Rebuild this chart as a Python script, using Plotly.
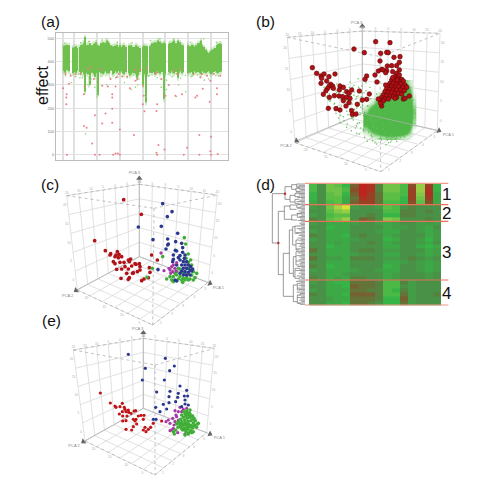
import numpy as np
import plotly.graph_objects as go

W, H = 482, 493

# ---------- (a) effect per position ----------
band_pos = [189,193,198,202,206, 218,222,226,230, 237,241,245,249,253,257, 263,267,
            275,279,283,287,291,295, 302,306,310,314,318,322,326,330,
            337,341,345,349,353, 360,364,368,372,376, 385,389,393,397,
            402,406,410,414,418, 428,432,436,440,
            448,452,456,460,464,468,472,476,480,484, 491,495,
            506,510,514,518,522,526, 532,536,540,544,548,
            562,566,570,574,578,582,586, 594,598,602,606,610,
            616,620,624,628,632,636,640,644, 650,654,658,662]
band_top = [466,470,472,466,470, 460,462,465,458, 462,470,472,480,505,470, 472,478,
            470,475,478,482,470,466, 478,482,478,480,490,485,478,470,
            465,462,468,472,462, 470,462,468,470,462, 468,462,470,462,
            462,470,466,462,458, 462,468,466,465,
            465,470,478,480,480,482,490,480,485,478, 480,476,
            475,480,480,485,490,478, 490,478,482,472,468,
            470,462,465,472,468,464,470, 478,480,490,470,462,
            450,442,436,440,445,450,455,458, 470,475,478,475]
band_low = [360,352,362,365,358, 350,355,352,360, 355,350,356,345,270,350, 345,300,
            352,345,335,350,255,355, 350,345,352,358,348,355,350,360,
            345,350,358,352,360, 352,358,350,345,355, 350,340,345,352,
            350,345,330,340,355, 300,345,225,345,
            352,358,350,355,345,350,358,352,348,355, 240,345,
            355,350,358,352,348,355, 330,352,358,350,355,
            350,358,352,355,345,358,352, 355,350,345,358,352,
            350,355,358,352,345,350,355,358, 352,350,355,358]
pink_pos = [187,198,197,197,199,250,258,275,283,283,297,315,305,335,335,322,335,335,345,358,338,345,352,358,400,428,430,427,432,470,468,474,468,492,470,550,560,597,597,632,630,632,652,628,650,650,607,590,585,525,545,205,250,252,280,305,330,348,365,388,405,410,420,440,465,482,495,505,520,530,540,580,600,605,620,630,660,640,262,240,225,210,195,270,300,355,380,402,470]
pink_eff = [285,260,246,217,0,124,116,49,170,0,0,177,134,138,198,293,260,246,293,109,0,6,6,0,85,296,253,217,187,217,188,42,9,23,0,0,30,85,0,78,16,0,4,227,285,260,283,253,246,253,260,305,260,293,325,296,325,332,336,285,318,325,365,371,346,325,253,299,361,346,368,346,332,346,339,318,339,346,368,346,346,339,346,375,368,346,336,365,353]
mint_pos = [212,238,262,268,283,292,318,345,372,392,412,436,442,482,490,498,528,535,556,575,612,646,255,498,405,
            195,225,245,272,300,328,352,380,415,445,470,488,515,540,572,600,625,655,210,233,268,335,398,445,503,555,592,
            192,240,265,305,350,395,450,478,520,570,610,648]
mint_eff = [310,330,300,320,290,265,300,330,310,280,300,250,340,290,270,320,250,300,270,340,320,340,90,280,290,
            338,335,330,325,338,332,335,330,325,338,330,322,335,328,335,330,325,338,345,345,340,345,342,340,345,340,342,
            478,480,486,492,482,480,490,497,496,482,497,482]
effect_ticks = [500,400,300,200,100,0]
pos_grid = [187,221,290,358,427,495,563,632]

# ---------- (b) ----------
b_red_h = [342,407,450,373,422,440,445,462,480,420,478,442,455,470,217,478,415,425,440,430,405,380,375,437,458,470,
           230,243,252,267,285,245,260,272,243,268,263,278,280,258,300,310,298,320,335,327,250,268,283,297,308,320,330,358,388,380,367,352,327,318,310,265,288,300,335,337,348,425,
           465,475,485,455,465,478,490,450,460,470,482,495,445,455,465,475,488,500,440,450,460,470,482,493,435,445,455,465,475,485,430,440,450,460,470,425,435,445,420,430,508,490,465,495,422,415,437,411,472,458,478]
b_red_v = [147,125,128,158,160,157,158,172,170,183,187,198,197,197,203,210,213,208,212,210,225,228,238,218,215,220,
           220,228,222,230,222,235,243,253,250,258,265,258,265,272,258,262,270,275,270,280,283,292,287,288,290,292,295,273,282,298,300,313,308,318,302,325,326,330,332,343,342,318,
           230,232,238,240,242,245,243,250,250,252,252,255,258,260,262,260,262,262,266,268,270,270,270,272,275,277,278,280,280,282,285,287,288,290,292,293,297,297,300,303,288,297,295,295,310,297,255,246,240,233,225]
cloud_h = [380,400,420,440,460,480,500,520]
cloud_v = [250,270,290,310,330,350,370,390,410]
cloud_density = [
    [0,0,0,0,0,2,3,0],
    [0,0,0,2,7,10,8,0],
    [0,0,3,9,10,10,10,1],
    [0,2,8,10,10,10,10,2],
    [2,7,10,10,10,10,10,3],
    [5,9,10,10,10,10,10,3],
    [5,8,10,10,10,10,10,2],
    [2,5,7,8,9,9,7,0],
    [0,1,2,3,3,2,1,0]]
haze_h = [252,258,262,268,272,276,280,284,288,292,296,300,304,308,312,316,320,324,328,332,336,340,344,348,352,356,360,364,368,372,376,380,384,388,392,396,400,
          260,266,274,282,290,298,306,314,322,330,338,346,354,362,370,378,386,394,402,410,
          270,278,286,294,302,310,318,326,334,342,350,358,366,374,382,390,398,406,414,
          288,296,304,312,320,328,336,344,352,360,368,376,384,392,400,408,416,
          300,310,320,330,340,350,360,370,380,390,400,410,420,430,
          322,334,346,358,370,382,394,406,418,430,442,454,
          350,362,374,386,398,410,422,434,446,458,470,482,
          382,396,410,424,438,452,466,480,494,
          318,330,342,354,366,378,390,302,290,350,365,380,395,410,
          520,522,518,524,516,512,526,505,498,490,470,455,440,425,412,405]
haze_v = [262,290,248,282,300,266,254,310,272,320,294,252,334,286,268,322,300,344,262,282,312,352,276,296,336,262,306,290,326,278,344,300,318,336,296,352,322,
          275,300,258,312,278,332,266,302,286,330,262,310,288,322,346,272,300,356,338,312,
          304,268,326,292,346,278,316,298,350,286,324,368,306,338,318,348,362,330,306,
          340,354,318,362,334,306,356,328,370,344,316,376,352,330,382,362,342,
          368,350,382,326,360,378,338,392,362,346,380,400,358,372,
          372,392,384,402,388,372,406,394,416,388,420,404,
          400,384,412,396,422,386,414,400,428,408,424,412,
          424,410,432,416,434,426,418,408,412,
          270,246,256,236,258,248,262,298,252,290,278,304,324,282,
          300,330,350,370,290,378,340,395,402,408,414,420,412,420,398,428]

# ---------- (c) ----------
c_red_h = [371,424,284,316,332,330,352,348,357,345,355,365,340,345,360,372,385,392,388,405,418,350,365,375,385,395,408,420,420,400,412,398,380,363,385,388,425,432,448,450,455,472,445]
c_red_v = [104,148,227,257,266,270,260,270,268,275,278,275,290,296,292,292,285,282,290,296,296,313,312,305,312,303,298,305,315,323,320,325,325,340,343,338,347,342,308,322,270,285,338]
c_green_h = [553,557,488,457,441,565,558,572,575,565,590,500,520,548,565,585,535,530,540,550,560,570,575,580,530,520,510,515,545,555,535,565,555,548,540,525,580]
c_green_v = [218,237,275,310,337,267,280,285,300,292,325,342,350,352,345,338,310,320,335,340,338,342,330,320,330,335,335,345,345,345,342,310,328,322,312,325,345]
c_blue_h = [488,516,502,484,415,459,533,503,505,527,545,498,503,526,530,548,548,520,540,474,518,540,555,553,550,560,545,555,565,572,550,560,570,545,555,565,575,540,550,560,570,578,530,525,530,520,535]
c_blue_v = [116,140,155,184,186,224,205,222,237,230,235,252,240,256,258,248,262,270,272,314,290,285,270,280,290,290,300,300,300,305,310,310,315,318,320,322,318,325,330,330,330,312,300,345,348,283,278]
c_mag_h = [483,492,515,510,520,525,518,530,512,507,528]
c_mag_v = [264,317,305,315,300,310,320,293,325,310,318]

# ---------- (e) ----------
e_red_h = [211,241,255,258,277,270,283,285,295,277,288,296,312,317,268,278,291,303,325,333,342,340,310,318,288,278,320,310,305,288,345,362,340,355,348,370,395,315]
e_red_v = [249,279,288,292,280,290,292,298,300,305,305,307,303,302,312,318,318,310,318,316,316,328,328,328,332,333,342,350,360,358,352,352,360,358,365,340,333,333]
e_blue_h = [295,406,433,419,346,337,403,380,450,470,445,420,417,443,463,473,465,437,417,400,377,410,390,465,475,455,370,378]
e_blue_v = [133,145,168,182,175,210,210,246,228,241,250,244,260,262,258,258,270,275,278,283,292,297,305,282,285,290,328,328]
e_mag_h = [408,415,420,428,435,440,432,445,435,425,420,450,460,470,455,445,438,430,443,465]
e_mag_v = [335,330,340,325,335,320,345,305,302,360,362,292,298,295,305,330,315,355,368,372]
e_green_h = [503,433,465,490,430,480,470,495,505,445,452,460,468,476,484,492,448,456,464,472,480,488,496,450,458,466,474,482,490,444,452,460,468,476,484,492,455,463,471,479,487,458,466,474,482,462,470,478,468,476,472,465,480,488,455,440,485,475,500,437]
e_green_v = [342,372,375,365,365,300,310,345,340,335,328,322,318,316,318,325,340,335,330,325,322,328,332,345,342,338,334,332,338,352,350,346,344,342,346,348,356,354,352,350,355,360,360,358,362,305,302,308,365,368,345,312,312,318,315,342,368,372,352,360]

# ---------- (d) heat map ----------
heat = [
 [-1,3,-3,-2,0,6,10,9,4,-3,-3,-1,7,-5,8,0],
 [-1,3,-3,-3,-1,7,10,9,4,-3,-3,-1,8,-5,9,0],
 [0,3,-2,-3,0,6,10,8,5,-2,-2,-1,8,-4,9,1],
 [0,3,-2,-2,1,5,9,8,5,-2,-2,0,8,-3,8,1],
 [1,3,-1,-2,1,6,8,8,5,-1,-1,0,7,-2,7,1],
 [2,3,-3,-6,-9,2,3,3,2,-2,-1,3,4,3,3,3],
 [3,3,-2,-4,-5,3,3,3,3,-1,-1,4,4,3,4,3],
 [2,3,-1,-2,-2,3,3,4,3,0,0,4,4,3,3,3],
 [4,3,-2,-3,-5,3,6,5,3,-4,-3,3,3,3,4,3],
 [2,3,1,1,1,2,3,3,2,1,2,3,3,2,2,2],
 [3,3,0,1,1,3,3,3,3,1,2,2,3,2,1,3],
 [2,3,1,1,1,3,3,3,2,1,1,3,3,2,1,2],
 [4,3,1,1,0,3,4,3,3,1,2,3,3,3,1,2],
 [2,3,1,1,1,2,3,3,3,0,1,3,3,2,0,2],
 [3,3,1,2,1,3,3,4,3,1,2,3,3,2,1,3],
 [3,3,0,1,1,3,3,3,3,1,1,3,3,1,0,1],
 [5,3,1,1,1,3,4,4,3,2,2,3,3,3,1,2],
 [3,3,1,1,1,2,3,3,3,1,1,3,3,2,1,2],
 [5,3,2,2,1,4,4,4,3,2,2,3,4,3,2,3],
 [3,3,1,1,1,3,3,3,3,1,1,2,3,2,1,2],
 [4,3,0,1,1,3,3,3,3,0,1,3,3,2,1,2],
 [2,3,1,1,1,2,3,3,2,1,1,3,3,2,1,2],
 [3,3,1,1,2,3,3,3,3,1,2,3,3,3,2,3],
 [4,3,1,2,1,4,4,3,3,1,2,3,3,3,2,3],
 [2,3,1,0,0,5,5,5,4,-1,-1,4,2,3,3,3],
 [3,3,1,1,0,6,5,5,4,-1,-1,3,2,3,3,3],
 [2,3,1,1,1,5,5,4,4,-1,0,4,2,3,3,3],
 [4,3,1,1,0,6,6,6,4,-1,-1,5,2,3,3,4],
 [3,3,2,1,1,5,5,5,4,0,0,6,2,3,3,3],
 [3,3,1,1,0,5,5,4,3,0,0,5,2,3,3,3]]
cluster_names = ["1", "2", "3", "4"]
brackets = [(97,71,219,135,115),(135,50,88,155,150),(155,44,58,170,168),(150,76,96,165,165),(170,42,50,182,182),(168,54,64,180,182),(165,70,80,180,180),(165,88,100,178,178),
            (115,124,314,133,130),(133,108,148,150,155),(150,105,118,168,170),(155,135,150,170,172),(170,104,112,182,182),(172,130,142,185,185),
            (130,250,379,148,160),(148,180,310,158,160),(158,170,225,165,168),(160,260,320,168,165),(165,168,190,178,178),(168,210,240,178,178),(168,245,285,178,178),(165,295,325,180,180),
            (160,345,395,172,172),(172,340,360,182,182),(172,375,400,182,182)]
leaf_start = [182,176,182,170,178,182,168,180,176,182,172,184,178,170,182,176,
              184,180,172,184,176,182,170,184,178,184,180,174,184,178,
              182,176,184,170,178,184,168,180,176,184,172,182,178,184,170,180,176,184,168,182,178,174,184,170,178,184,176,168,182,178,
              180,172,184,178,166,182,176,184,170,178,184,176,168,182,
              182,176,184,172,178,184,170,180,176,184,172,182,178,184,174,180]
lines_y = [40,104,154,330,405]

fig = go.Figure()
layout = dict(width=W, height=H, margin=dict(l=0, r=0, t=0, b=0), paper_bgcolor="white",
              plot_bgcolor="rgba(0,0,0,0)", showlegend=False, barmode="overlay")
shapes, annots = [], []

def panel(n, ox, oy, w, h):
    """Axes whose units are thirds of a picture pixel, starting at (ox, oy)."""
    layout[f"xaxis{n}"] = dict(domain=[ox/W, (ox+w)/W], range=[0, 3*w], visible=False, anchor=f"y{n}", fixedrange=True)
    layout[f"yaxis{n}"] = dict(domain=[1-(oy+h)/H, 1-oy/H], range=[3*h, 0], visible=False, anchor=f"x{n}", fixedrange=True)
    return f"x{n}", f"y{n}"

def seg_path(segs):
    return " ".join(f"M{a[0]},{a[1]} L{b[0]},{b[1]}" for a, b in segs)

def lerp(a, b, t):
    return (a[0]+(b[0]-a[0])*t, a[1]+(b[1]-a[1])*t)

def wall(a, b, c, d, nu, nv):
    s = []
    for i in range(nu+1):
        t = i/nu
        s.append((lerp(a, b, t), lerp(d, c, t)))
    for j in range(nv+1):
        t = j/nv
        s.append((lerp(a, d, t), lerp(b, c, t)))
    return s

def box(xa, ya, L, T, R, FL, B, FR, F, FT, up, names, tip_l, tip_r, lab3, lab2, lab1):
    grid = wall(L, T, B, FL, 6, 5) + wall(T, R, FR, B, 6, 5) + wall(B, FR, F, FL, 6, 6)
    shapes.append(dict(type="path", path=seg_path(grid), xref=xa, yref=ya, layer="below",
                       line=dict(color="#d4d4d4", width=0.7)))
    dots_ = [(L, FT), (FT, R), (L, T), (T, R), (FT, F), (FL, F), (F, FR)]
    shapes.append(dict(type="path", path=seg_path(dots_), xref=xa, yref=ya, layer="below",
                       line=dict(color="#a8a8a8", width=0.7, dash="dot")))
    ax_x = [B[0], up[0], None, B[0], tip_l[0], None, B[0], tip_r[0]]
    ax_y = [B[1], up[1], None, B[1], tip_l[1], None, B[1], tip_r[1]]
    fig.add_trace(go.Scatter(x=ax_x, y=ax_y, mode="lines", line=dict(color="#b0b0b0", width=0.7), xaxis=xa, yaxis=ya, hoverinfo="skip"))
    fig.add_trace(go.Scatter(x=[up[0], tip_l[0], tip_r[0]], y=[up[1], tip_l[1], tip_r[1]], mode="markers",
                             marker=dict(symbol="triangle-up", size=5.5, color="#666666", angle=[0, -125, 115]),
                             xaxis=xa, yaxis=ya, hoverinfo="skip"))
    fig.add_trace(go.Scatter(x=[lab3[0], lab2[0], lab1[0]], y=[lab3[1], lab2[1], lab1[1]], mode="text",
                             text=names, textfont=dict(size=4, color="#888888", family="Liberation Sans"),
                             xaxis=xa, yaxis=ya, hoverinfo="skip"))
    tx, ty, tt = [], [], []
    for lab, t in zip(["20","15","10","5","0","5","10"], np.linspace(0, 1, 7)):
        p = lerp(L, T, t); tx.append(p[0]); ty.append(p[1]-7); tt.append(lab)
    for lab, t in zip(["10","5","0","5","10","15","20"], np.linspace(0, 1, 7)):
        p = lerp(T, R, t); tx.append(p[0]); ty.append(p[1]-7); tt.append(lab)
    for lab, t in zip(["20","15","10","5","0"], np.linspace(0.1, .9, 5)):
        p = lerp(L, FL, t); tx.append(p[0]-9); ty.append(p[1]); tt.append(lab)
        p = lerp(R, FR, t); tx.append(p[0]+9); ty.append(p[1]); tt.append(lab)
    for lab, t in zip(["5","4","3","2","1"], np.linspace(0.1, .9, 5)):
        p = lerp(FR, F, t); tx.append(p[0]+8); ty.append(p[1]+7); tt.append(lab)
    for lab, t in zip(["20","15","10","5"], np.linspace(0.15, .85, 4)):
        p = lerp(FL, F, t); tx.append(p[0]-6); ty.append(p[1]+10); tt.append(lab)
    fig.add_trace(go.Scatter(x=tx, y=ty, mode="text", text=tt, textfont=dict(size=3.2, color="#aaaaaa", family="Liberation Sans"),
                             xaxis=xa, yaxis=ya, hoverinfo="skip"))

def dots(xa, ya, xs, ys, color, size, edge=None):
    line = dict(color=edge, width=0.6) if edge else dict(width=0)
    fig.add_trace(go.Scatter(x=xs, y=ys, mode="markers", xaxis=xa, yaxis=ya, hoverinfo="skip",
                             marker=dict(symbol="circle", size=size, color=color, line=line)))

# ----- panel (a) -----
layout["xaxis"] = dict(domain=[56/W, 228/W], range=[166, 683], tickvals=pos_grid, showticklabels=False, ticks="",
                       showgrid=True, gridcolor="#e0e0e0", gridwidth=1.6, zeroline=False, showline=True, mirror=True,
                       linecolor="#bcbcbc", linewidth=1, anchor="y", fixedrange=True)
layout["yaxis"] = dict(domain=[1-160/H, 1-33/H], range=[-22, 522], tickvals=effect_ticks, ticks="",
                       tickfont=dict(size=4, color="#777777", family="Liberation Sans"),
                       showgrid=True, gridcolor="#e2e2e2", gridwidth=0.8, zeroline=False, showline=True, mirror=True,
                       linecolor="#bcbcbc", linewidth=1, anchor="x", fixedrange=True)
fig.add_trace(go.Bar(x=band_pos, y=[t-l+22 for t, l in zip(band_top, band_low)], base=[l-12 for l in band_low], width=4.0, opacity=0.4,
                     marker=dict(color="#8ed074", line=dict(width=0)), xaxis="x", yaxis="y", hoverinfo="skip"))
fig.add_trace(go.Bar(x=band_pos, y=[t-l for t, l in zip(band_top, band_low)], base=band_low, width=3.4,
                     marker=dict(color="#70c04e", line=dict(width=0)), xaxis="x", yaxis="y", hoverinfo="skip"))
fig.add_trace(go.Scatter(x=mint_pos, y=mint_eff, mode="markers", marker=dict(size=1.6, color="#94d27a"), xaxis="x", yaxis="y", hoverinfo="skip"))
fig.add_trace(go.Scatter(x=pink_pos, y=pink_eff, mode="markers", marker=dict(size=2, color="#ec7f86"), xaxis="x", yaxis="y", hoverinfo="skip"))

# ----- panel (b) -----
xb, yb = panel(2, 240, 0, 242, 175)
box(xb, yb, (142,112), (367,93), (600,100), (165,428), (367,340), (592,392), (422,515), (420,170), (367,78),
    ["PCA 3","PCA 2","PCA 1"], (170,422), (597,392), (350,68), (138,438), (625,405))
fig.add_trace(go.Heatmap(x=cloud_h, y=cloud_v, z=cloud_density, zmin=0, zmax=10, zsmooth="best", showscale=False, hoverinfo="skip",
                         colorscale=[[0, "rgba(79,184,72,0)"], [0.2, "rgba(90,190,80,0.45)"], [0.4, "rgb(79,184,72)"], [1, "rgb(79,184,72)"]],
                         xaxis=xb, yaxis=yb))
dots(xb, yb, haze_h, haze_v, "#62bf57", 1.5)
dots(xb, yb, b_red_h, b_red_v, "#b31015", 4.6, "#5c0608")

# ----- panel (c) -----
xc, yc = panel(3, 0, 165, 240, 175)
box(xc, yc, (200,92), (418,58), (652,90), (232,375), (418,275), (625,352), (458,480), (462,130), (418,40),
    ["PCA 3","PCA 2","PCA 1"], (228,376), (630,355), (403,25), (203,393), (655,370))
dots(xc, yc, c_red_h, c_red_v, "#b21216", 3.7)
dots(xc, yc, c_green_h, c_green_v, "#3fae36", 3.6)
dots(xc, yc, c_blue_h, c_blue_v, "#2a3690", 3.6)
dots(xc, yc, c_mag_h, c_mag_v, "#a83aa8", 3.3)

# ----- panel (e) -----
xe, ye = panel(4, 30, 310, 220, 175)
box(xe, ye, (130,120), (340,85), (553,115), (165,393), (340,295), (530,368), (375,495), (375,165), (340,68),
    ["PCA 3","PCA 2","PCA 1"], (160,395), (540,372), (323,58), (132,408), (568,385))
dots(xe, ye, e_red_h, e_red_v, "#c01518", 3.2)
dots(xe, ye, e_mag_h, e_mag_v, "#a83aa8", 3.2)
dots(xe, ye, e_green_h, e_green_v, "#3fae36", 3.5)
dots(xe, ye, e_blue_h, e_blue_v, "#2a3690", 3.2)

# ----- panel (d) -----
xd, yd = panel(5, 240, 170, 242, 145)
edges_x = np.linspace(207, 603, 17)
edges_y = np.concatenate([np.linspace(40, 104, 6), np.linspace(104, 154, 5)[1:], np.linspace(154, 330, 16)[1:], np.linspace(330, 405, 7)[1:]])
fig.add_trace(go.Heatmap(x=edges_x, y=edges_y, z=heat, zmin=-10, zmax=10, showscale=False, hoverinfo="skip", xaxis=xd, yaxis=yd,
                         colorscale=[[0, "rgb(235,230,50)"], [0.25, "rgb(150,205,70)"], [0.5, "rgb(55,180,70)"], [0.65, "rgb(72,145,70)"],
                                     [0.75, "rgb(100,115,55)"], [0.85, "rgb(135,80,40)"], [1, "rgb(190,35,30)"]]))
tx, ty = [], []
for xv, y1, y2, xc1, xc2 in brackets:
    tx += [xc1, xv, xv, xc2, None]
    ty += [y1, y1, y2, y2, None]
for s, y in zip(leaf_start, np.linspace(42, 403, len(leaf_start))):
    tx += [s, 195, None]
    ty += [y, y, None]
fig.add_trace(go.Scatter(x=tx, y=ty, mode="lines", line=dict(color="#6e6e6e", width=0.7), xaxis=xd, yaxis=yd, hoverinfo="skip"))
fig.add_trace(go.Scatter(x=[135, 115], y=[71, 219], mode="markers", marker=dict(size=2.5, color="#c03030"), xaxis=xd, yaxis=yd, hoverinfo="skip"))
for y in lines_y:
    fig.add_trace(go.Scatter(x=[195, 625], y=[y, y], mode="lines", xaxis=xd, yaxis=yd, hoverinfo="skip",
                             line=dict(color="#e8705c" if 40 < y < 405 else "#f09a88", width=1.1)))

def text(px, py, s, size, angle=0):
    annots.append(dict(x=px/W, y=1-py/H, xref="paper", yref="paper", text=s, showarrow=False, textangle=angle,
                       font=dict(family="Liberation Sans", size=size, color="#111111"), xanchor="center", yanchor="middle"))

text(50, 21.5, "(a)", 15.5)
text(265, 21, "(b)", 15.5)
text(50, 185, "(c)", 15.5)
text(265, 185, "(d)", 15.5)
text(51, 320, "(e)", 15.5)
text(43, 86, "effect", 16, -90)
for name, cy in zip(cluster_names, [194, 213, 252, 293]):
    text(446, cy, name, 17)

layout["shapes"] = shapes
layout["annotations"] = annots
fig.update_layout(**layout)
fig.write_html("out.html", config=dict(displayModeBar=False),
               post_script="document.body.style.margin='0';document.documentElement.style.overflow='hidden';")
